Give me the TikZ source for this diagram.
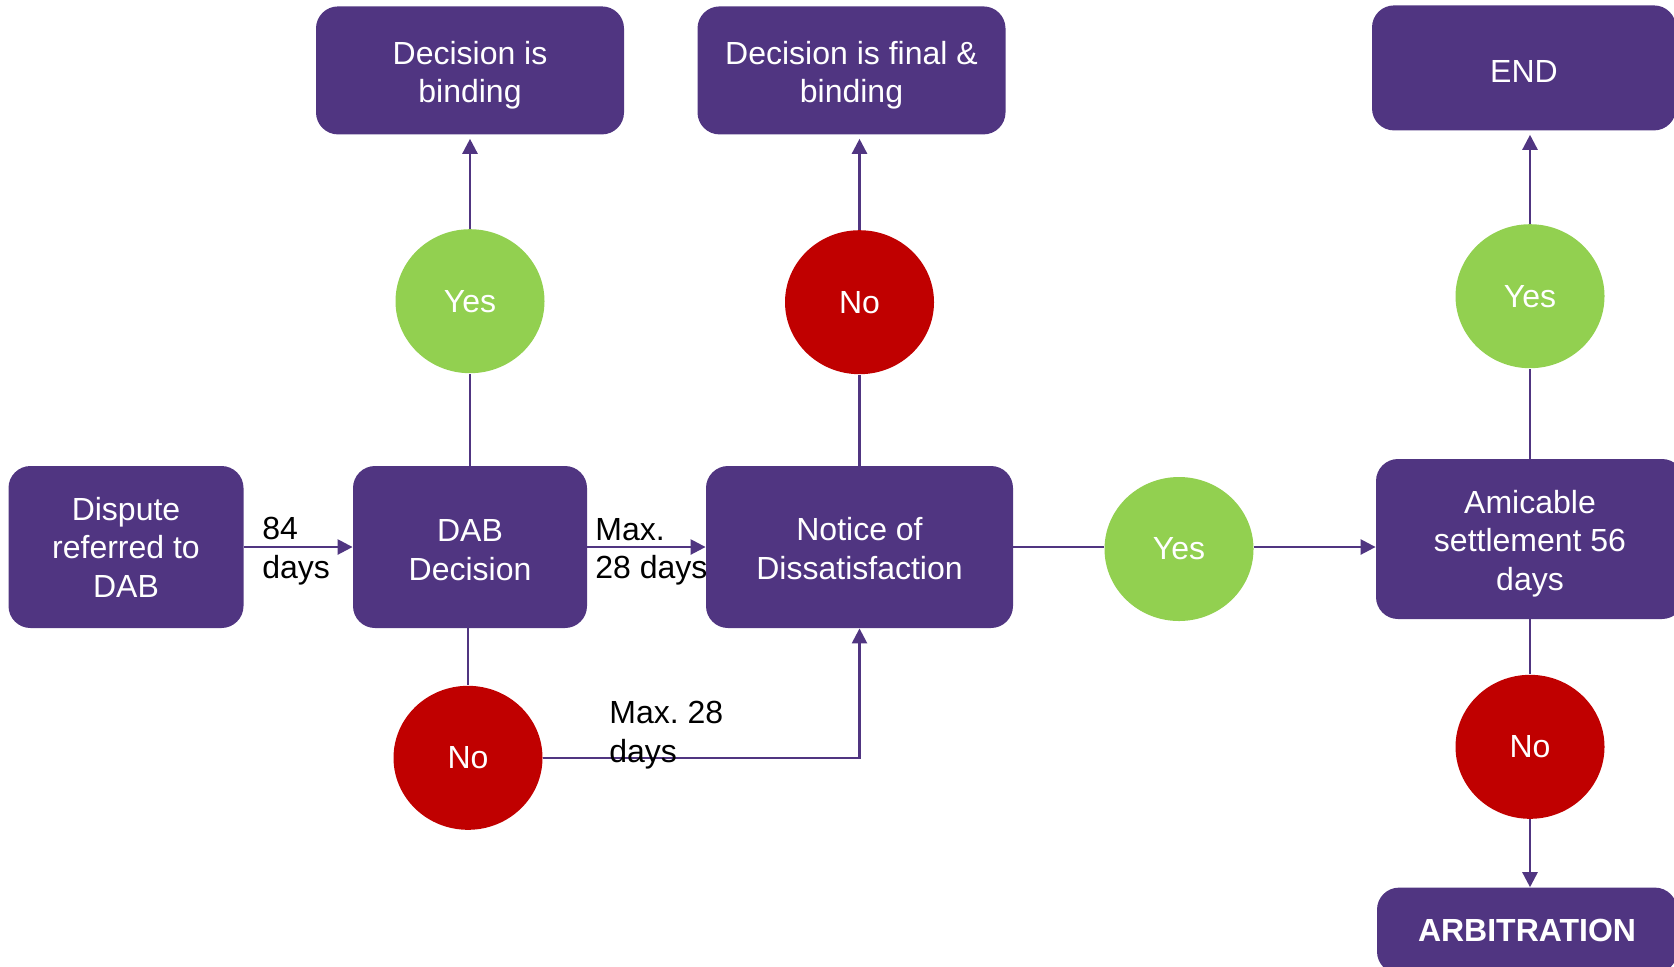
\documentclass[tikz,border=0pt]{standalone}
\usepackage{fontspec}
\setmainfont{Liberation Sans}
\usepackage{tikz}
\usetikzlibrary{positioning,arrows.meta,shapes.geometric}

\definecolor{dabpurple}{RGB}{80,53,129}
\definecolor{yesgreen}{RGB}{146,208,80}
\definecolor{nored}{RGB}{192,0,0}

% invisible strut, moves box text a little down
\newcommand{\padtop}[1]{\rule{0pt}{#1}}

\tikzset{
  box/.style={rectangle, rounded corners=11pt, fill=dabpurple, text=white,
    align=center, inner sep=0pt, font=\fontsize{16}{19.2}\selectfont},
  yes/.style={ellipse, fill=yesgreen, text=white, inner sep=0pt,
    minimum width=74.5pt, minimum height=72pt, font=\fontsize{16}{19.2}\selectfont},
  no/.style={yes, fill=nored},
  flow/.style={draw=dabpurple, line width=1.25pt},
  arr/.style={flow, -{Triangle[length=7.5pt,width=7.5pt]}},
  lbl/.style={align=left, inner sep=0pt, anchor=west, font=\fontsize{16}{19.2}\selectfont},
}

\begin{document}
\frenchspacing
\begin{tikzpicture}[x=0.5pt, y=-0.5pt]
\useasboundingbox (0,0) rectangle (1674,966);
\clip (0,0) rectangle (1674,966);
% main row
\node[box, minimum width=117.5pt, minimum height=81pt] (dispute) at (126,547) {Dispute\\referred to\\DAB};
\node[box, minimum width=117pt, minimum height=81pt] (dab) at (470,547) {\padtop{14pt}DAB\\Decision};
\node[box, minimum width=153.5pt, minimum height=81pt] (notice) at (859.5,547) {\padtop{13pt}Notice of\\Dissatisfaction};
\node[yes] (yes2) at (1179,549) {Yes};
\node[box, minimum width=154pt, minimum height=80pt] (amicable) at (1530,539) {\padtop{16pt}Amicable\\settlement 56\\days};
% upper and lower branches
\node[yes, above=46pt of dab] (yes1) {Yes};
\node[box, minimum width=154pt, minimum height=64pt, above=47pt of yes1] (binding) {\padtop{16.5pt}Decision is\\binding};
\node[no, above=45.5pt of notice] (no1) {No};
\node[box, minimum width=154pt, minimum height=64pt, above=47.5pt of no1, xshift=-4pt] (final) {\padtop{16.5pt}Decision is final \&\\binding};
\node[no, below=28.5pt of dab, xshift=-1pt] (no2) {No};
\node[yes, above=45pt of amicable] (yes3) {Yes};
\node[box, minimum width=152pt, minimum height=62.5pt, above=46.5pt of yes3, xshift=-3pt] (endnode) {\padtop{15pt}END};
\node[no, below=27.5pt of amicable] (no3) {No};
\node[box, minimum width=150pt, minimum height=43pt, below=34pt of no3, xshift=-1.5pt,
  font=\fontsize{16}{19.2}\selectfont\bfseries] (arbitration) {ARBITRATION};

% connectors
\draw[arr] (dispute) -- (dab);
\draw[arr] (dab) -- (notice);
\draw[flow] (notice) -- (notice -| yes2.west);
\draw[arr] (yes2.east |- notice) -- (notice -| amicable.west);
\draw[flow] (dab) -- (yes1);
\draw[arr, shorten >=2pt] (yes1) -- (binding);
\draw[flow] (notice) -- (no1);
\draw[arr, shorten >=2pt] (no1) -- (no1 |- final.south);
\draw[flow] (dab.south -| no2) -- (no2);
\draw[arr] (no2) -| (notice);
\draw[flow] (amicable) -- (yes3);
\draw[arr, shorten >=2pt] (yes3) -- (yes3 |- endnode.south);
\draw[flow] (amicable) -- (no3);
\draw[arr] (no3) -- (no3 |- arbitration.north);

% labels
\node[lbl] (days84) at (262,551) {84\\days};
\node[lbl] (max1) at (595,552) {Max.\\28 days};
\node[lbl] (max2) at (609,735) {Max. 28\\days};
\end{tikzpicture}
\end{document}
